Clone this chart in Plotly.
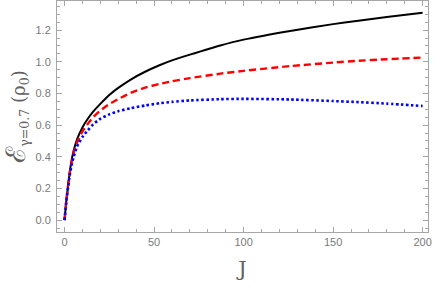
import plotly.graph_objects as go

J = [0, 1, 2, 3, 4, 5, 7, 10, 13, 16, 20, 25, 30, 37, 45, 53, 60, 70, 87, 100, 126, 150, 163, 180, 200]
black_vals = [0, 0.12, 0.22, 0.31, 0.38, 0.435, 0.51, 0.585, 0.64, 0.685, 0.734, 0.79, 0.835, 0.888, 0.937, 0.978, 1.009, 1.045, 1.103, 1.14, 1.195, 1.238, 1.258, 1.283, 1.31]
red_vals = [0, 0.12, 0.22, 0.305, 0.37, 0.42, 0.49, 0.56, 0.608, 0.65, 0.692, 0.733, 0.765, 0.803, 0.837, 0.86, 0.877, 0.897, 0.925, 0.943, 0.973, 0.995, 1.006, 1.016, 1.027]
blue_vals = [0, 0.12, 0.21, 0.29, 0.35, 0.395, 0.465, 0.525, 0.567, 0.605, 0.64, 0.668, 0.688, 0.707, 0.724, 0.738, 0.747, 0.756, 0.764, 0.766, 0.762, 0.752, 0.746, 0.736, 0.721]

x_ticks = [0, 50, 100, 150, 200]
y_ticks = [0.0, 0.2, 0.4, 0.6, 0.8, 1.0, 1.2]
y_tick_text = ["0.0", "0.2", "0.4", "0.6", "0.8", "1.0", "1.2"]

fig = go.Figure()
fig.add_trace(go.Scatter(x=J, y=black_vals, mode="lines", line=dict(color="black", width=2, shape="spline", smoothing=0.5)))
fig.add_trace(go.Scatter(x=J, y=red_vals, mode="lines", line=dict(color="#ff0000", width=2.4, dash="7px,4px", shape="spline", smoothing=0.5)))
fig.add_trace(go.Scatter(x=J, y=blue_vals, mode="lines", line=dict(color="#0000ff", width=2.6, dash="2.5px,2.5px", shape="spline", smoothing=0.5)))

axcol = "#a6a6a6"
tickfont = dict(family="Liberation Sans, Arial", size=11, color="#7a7a7a")
fig.update_layout(
    width=435, height=289,
    margin=dict(l=57, r=7, t=1, b=57),
    paper_bgcolor="white", plot_bgcolor="white",
    showlegend=False,
    xaxis=dict(range=[-4.2, 203], tickvals=x_ticks, ticks="inside", ticklen=5, tickcolor=axcol,
               showline=True, linecolor=axcol, linewidth=1, mirror="allticks", showgrid=False, zeroline=False,
               tickfont=tickfont, automargin=False,
               minor=dict(dtick=10, ticks="inside", ticklen=3, tickcolor=axcol, showgrid=False),
               title=dict(text="J", font=dict(family="DejaVu Serif, Liberation Serif", size=21, color="#606060"), standoff=14)),
    yaxis=dict(range=[-0.075, 1.384], tickvals=y_ticks, ticktext=y_tick_text, ticks="inside", ticklen=5, tickcolor=axcol,
               showline=True, linecolor=axcol, linewidth=1, mirror="allticks", showgrid=False, zeroline=False,
               tickfont=tickfont, automargin=False, ticklabelstandoff=3,
               minor=dict(dtick=0.05, ticks="inside", ticklen=3, tickcolor=axcol, showgrid=False),
               title=dict(text="<span style='font-size:27px'>ℰ</span><sub>γ=0.7</sub> (ρ<sub>0</sub>)",
                          font=dict(family="DejaVu Serif, Liberation Serif", size=18, color="#606060"), standoff=10)),
)
fig.write_html("out.html", config={"displayModeBar": False}, post_script="document.body.style.margin='0';")
